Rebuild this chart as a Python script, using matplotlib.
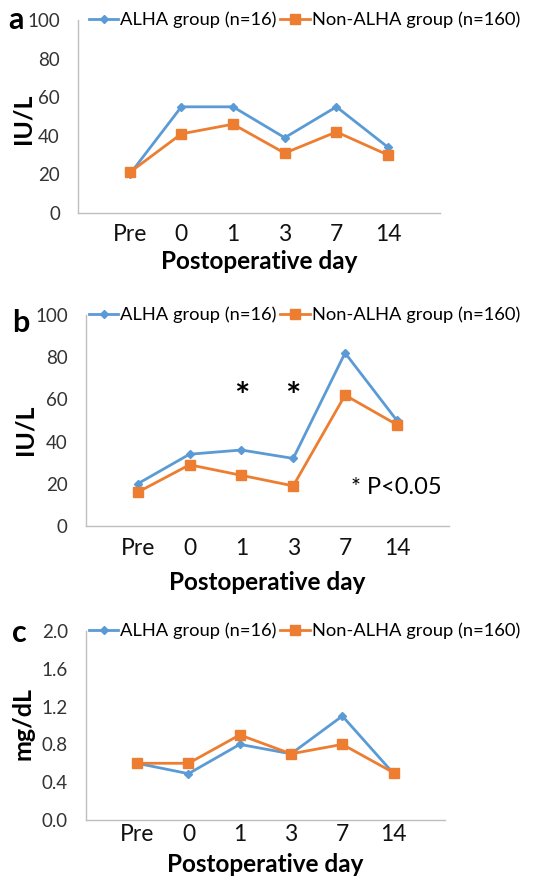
import matplotlib
matplotlib.use("Agg")
import matplotlib.pyplot as plt

plt.rcParams['font.family'] = ['Lato', 'DejaVu Sans']

days = ["Pre", "0", "1", "3", "7", "14"]

# panel a (IU/L)
a_alha = [20, 55, 55, 39, 55, 34]
a_non = [21, 41, 46, 31, 42, 30]
# panel b (IU/L)
b_alha = [20, 34, 36, 32, 82, 50]
b_non = [16, 29, 24, 19, 62, 48]
# panel c (mg/dL)
c_alha = [0.6, 0.49, 0.8, 0.7, 1.1, 0.49]
c_non = [0.6, 0.6, 0.9, 0.7, 0.8, 0.5]

blue = "#5B9BD5"
orange = "#ED7D31"
grey = "#BFBFBF"

fig = plt.figure(figsize=(5.4, 8.8), dpi=100)

panels = [
    # letter, rect, alha, non, ylim, yticks, ylabel, ticklabels
    ("a", [0.1444, 0.758, 0.670, 0.2193], a_alha, a_non, 100, [0, 20, 40, 60, 80, 100], "IU/L",
     ["0", "20", "40", "60", "80", "100"]),
    ("b", [0.159, 0.4023, 0.672, 0.2398], b_alha, b_non, 100, [0, 20, 40, 60, 80, 100], "IU/L",
     ["0", "20", "40", "60", "80", "100"]),
    ("c", [0.159, 0.0682, 0.665, 0.2148], c_alha, c_non, 2.0, [0, 0.4, 0.8, 1.2, 1.6, 2.0], "mg/dL",
     ["0.0", "0.4", "0.8", "1.2", "1.6", "2.0"]),
]

letter_pos = [(0.016, 0.977), (0.022, 0.633), (0.022, 0.281)]
# label placement per panel (axes fraction): xtick pad, xlabel y, ylabel x, ylabel y
label_pos = [(8, -0.254, -0.152, 0.487), (8.5, -0.27, -0.168, 0.455), (3, -0.238, -0.175, 0.51)]

x = list(range(len(days)))
for (letter, rect, alha, non, ymax, yt, ylab, ytl), lp, (xpad, xly, ylx, yly) in zip(panels, letter_pos, label_pos):
    ax = fig.add_axes(rect)
    ax.plot(x, alha, color=blue, lw=2, marker="D", markersize=4.5, label="ALHA group (n=16)")
    ax.plot(x, non, color=orange, lw=2, marker="s", markersize=7, label="Non-ALHA group (n=160)")
    ax.set_xlim(-1, 6)
    ax.set_ylim(0, ymax)
    ax.set_yticks(yt)
    ax.set_yticklabels(ytl)
    ax.set_xticks(x)
    ax.set_xticklabels(days)
    ax.tick_params(axis='y', length=0, pad=13, labelsize=13.5, labelcolor="#333333")
    ax.tick_params(axis='x', length=0, pad=xpad, labelsize=16.5, labelcolor="#111111")
    for s in ["top", "right"]:
        ax.spines[s].set_visible(False)
    for s in ["left", "bottom"]:
        ax.spines[s].set_color(grey)
        ax.spines[s].set_linewidth(1)
    ax.set_xlabel("Postoperative day", fontsize=17.5, fontweight="bold", va="center")
    ax.set_ylabel(ylab, fontsize=18, fontweight="bold", va="center")
    ax.xaxis.set_label_coords(0.5, xly)
    ax.yaxis.set_label_coords(ylx, yly)
    pos = ax.get_position()
    ax.legend(loc="center left", bbox_to_anchor=(0.165, pos.y1), bbox_transform=fig.transFigure,
              ncol=2, frameon=False, fontsize=13.2, handlelength=1.6, handletextpad=0.1,
              columnspacing=0.2, borderpad=0, borderaxespad=0)
    fig.text(lp[0], lp[1], letter, fontsize=22, fontweight="bold", va="center", ha="left")
    if letter == "b":
        ax.text(2, 61, "*", fontsize=26, fontweight="bold", ha="center", va="center")
        ax.text(3, 61, "*", fontsize=26, fontweight="bold", ha="center", va="center")
        ax.text(4.12, 18, "* P<0.05", fontsize=17, ha="left", va="center")

fig.savefig("out.png", dpi=100)
